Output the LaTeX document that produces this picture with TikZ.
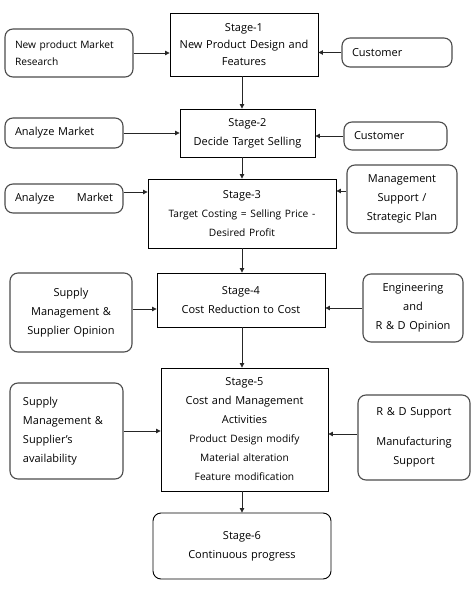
\documentclass[tikz,border=0pt]{standalone}
\usepackage{fontspec}
\setmainfont{Open Sans}
\usetikzlibrary{arrows.meta, positioning}

\newcommand{\lessfont}{\fontsize{10.2}{19}\selectfont}

\begin{document}
\begin{tikzpicture}[
    x=1pt, y=-1pt,
    font=\fontsize{11}{19}\selectfont,
    % Define styles
    stage/.style={rectangle, draw=black, line width=0.9pt, align=center, inner xsep=4pt, inner ysep=0pt},
    side/.style={rectangle, draw=black!70, line width=1.1pt, rounded corners=8pt, inner xsep=10pt, inner ysep=0pt},
    sidec/.style={side, align=center, inner xsep=4pt},
    sidel/.style={side, align=left},
    lesstext/.style={font=\lessfont},
    arrow/.style={-{Triangle[length=4.5pt, width=4.5pt]}, line width=0.8pt, black!85},
    ]

    \useasboundingbox (0,0) rectangle (475,589);
    \coordinate (spine) at (242,0);

    % Stage nodes
    \node[stage, minimum width=148pt, text width=140pt, minimum height=63pt] (s1) at (244,44.5)
        {Stage-1\\[-2pt]New Product Design and\\[-2pt]Features};
    \node[stage, minimum width=135pt, text width=127pt, minimum height=48pt] (s2) at (247.5,133)
        {Stage-2\\Decide Target Selling};
    \node[stage, minimum width=188pt, text width=180pt, minimum height=69pt] (s3) at (242,213.5)
        {Stage-3\\{\lessfont Target Costing = Selling Price -}\\{\lessfont Desired Profit}};
    \node[stage, minimum width=168pt, text width=160pt, minimum height=54pt] (s4) at (241,300)
        {Stage-4\\Cost Reduction to Cost\\[4pt]};
    \node[stage, minimum width=167pt, text width=159pt, minimum height=123pt] (s5) at (244.5,429.5)
        {Stage-5\\Cost and Management\\Activities\\{\lessfont Product Design modify}\\{\lessfont Material alteration}\\{\lessfont Feature modification}};
    \node[stage, rounded corners=8pt, minimum width=178pt, text width=170pt, minimum height=66pt] (s6) at (242,546)
        {Stage-6\\Continuous progress\\[6pt]};

    % Left side nodes
    \node[sidel, lesstext, minimum width=128pt, text width=108pt, minimum height=48pt] (research) at (69,53)
        {New product Market\\[-2pt]Research};
    \node[sidel, minimum width=118pt, text width=98pt, minimum height=30pt] (market1) at (64,133)
        {Analyze Market};
    \node[sidel, minimum width=118pt, text width=98pt, minimum height=29pt] (market2) at (64,198.5)
        {Analyze\hfill Market};
    \node[sidec, minimum width=122pt, text width=114pt, minimum height=79pt] (supply1) at (71,312.5)
        {Supply\\Management \&\\Supplier Opinion};
    \node[sidel, inner xsep=13pt, minimum width=113pt, text width=87pt, minimum height=96pt] (supply2) at (66.5,431)
        {Supply\\Management \&\\Supplier's\\availability};

    % Right side nodes
    \node[sidel, minimum width=110pt, text width=90pt, minimum height=29pt] (cust1) at (397,52.5)
        {Customer};
    \node[sidel, minimum width=103pt, text width=83pt, minimum height=28pt] (cust2) at (395.5,136)
        {Customer};
    \node[sidec, minimum width=110pt, text width=102pt, minimum height=68pt] (mgmt) at (402,199)
        {Management\\Support /\\Strategic Plan};
    \node[sidec, minimum width=100pt, text width=92pt, minimum height=68pt] (eng) at (413,308)
        {Engineering\\and\\R \& D Opinion};
    \node[sidec, minimum width=112pt, text width=104pt, minimum height=85pt] (rnd) at (414,437.5)
        {R \& D Support\\[11pt]Manufacturing\\Support};

    % Arrows down the stages
    \draw[arrow] (s1.south -| spine) -- (s2.north -| spine);
    \draw[arrow] (s2.south -| spine) -- (s3.north -| spine);
    \draw[arrow] (s3.south -| spine) -- (s4.north -| spine);
    \draw[arrow] (s4.south -| spine) -- (s5.north -| spine);
    \draw[arrow] (s5.south -| spine) -- (s6.north -| spine);

    % Arrows from the sides
    \draw[arrow] (research) -- (research -| s1.west);
    \draw[arrow] (cust1) -- (cust1 -| s1.east);
    \draw[arrow] (market1) -- (market1 -| s2.west);
    \draw[arrow] (cust2) -- (cust2 -| s2.east);
    \draw[arrow] ([yshift=6.5pt]market2.east) -- ([yshift=6.5pt]market2.east -| s3.west);
    \draw[arrow] ([yshift=8pt]mgmt.west) -- ([yshift=8pt]mgmt.west -| s3.east);
    \draw[arrow] ([yshift=3.5pt]supply1.east) -- ([yshift=3.5pt]supply1.east -| s4.west);
    \draw[arrow] (eng) -- (eng -| s4.east);
    \draw[arrow] (supply2) -- (supply2 -| s5.west);
    \draw[arrow] ([yshift=3.5pt]rnd.west) -- ([yshift=3.5pt]rnd.west -| s5.east);

\end{tikzpicture}
\end{document}
